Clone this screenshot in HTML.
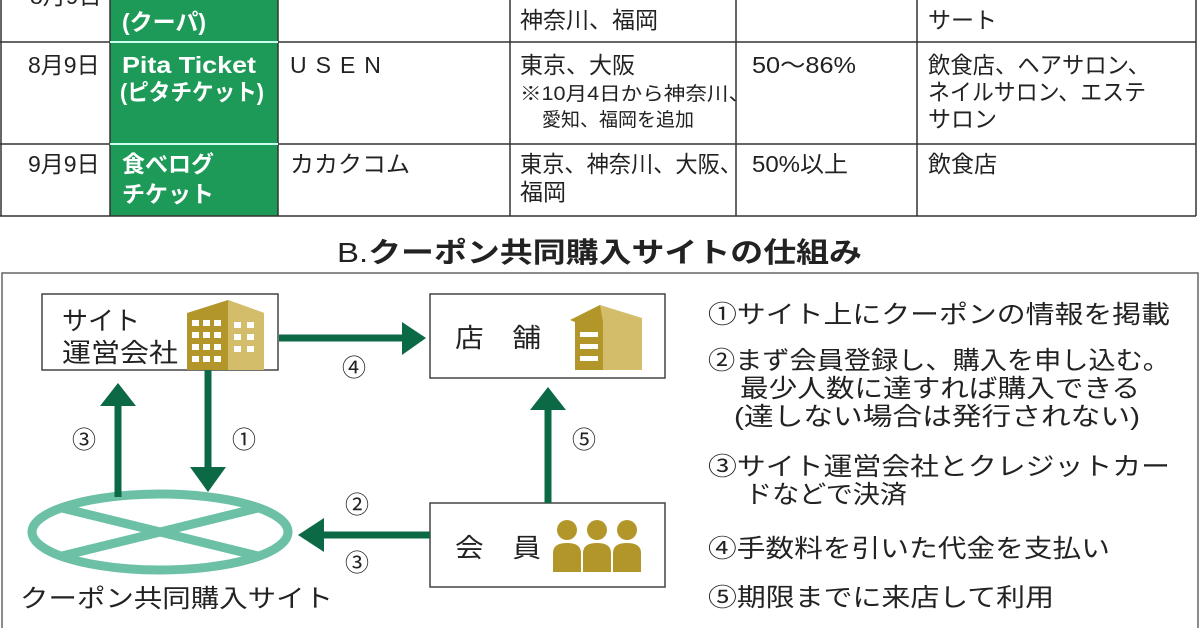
<!DOCTYPE html>
<html><head><meta charset="utf-8"><style>
body{margin:0;background:#fff}
svg text{font-family:"Liberation Sans","Noto Sans CJK JP",sans-serif;fill:#222}
</style></head><body>
<svg width="1200" height="628" viewBox="0 0 1200 628" xmlns="http://www.w3.org/2000/svg">
<rect width="1200" height="628" fill="#fff"/>
<rect x="110" y="0" width="168" height="216" fill="#1e9a58"/>
<g stroke="#333" stroke-width="1.5" fill="none">
<line x1="0" y1="42" x2="1196" y2="42"/>
<line x1="0" y1="144" x2="1196" y2="144"/>
<line x1="0" y1="216" x2="1196" y2="216"/>
<line x1="1" y1="0" x2="1" y2="216"/>
<line x1="110" y1="0" x2="110" y2="216"/>
<line x1="278" y1="0" x2="278" y2="216"/>
<line x1="510" y1="0" x2="510" y2="216"/>
<line x1="736" y1="0" x2="736" y2="216"/>
<line x1="917" y1="0" x2="917" y2="216"/>
<line x1="1196" y1="0" x2="1196" y2="216"/>
</g>
<line x1="110" y1="42" x2="278" y2="42" stroke="#cfe" stroke-width="2"/>
<line x1="110" y1="144" x2="278" y2="144" stroke="#cfe" stroke-width="2"/>
<g font-size="23">
<text x="30" y="4">8月9日</text>
<text x="122" y="30" style="fill:#fff;font-weight:bold">(クーパ)</text>
<text x="520" y="28">神奈川、福岡</text>
<text x="928" y="28">サート</text>
<text x="28" y="73">8月9日</text>
<text x="122" y="73" style="fill:#fff;font-weight:bold" textLength="134" lengthAdjust="spacingAndGlyphs">Pita Ticket</text>
<text x="120" y="100" style="fill:#fff;font-weight:bold" textLength="144" lengthAdjust="spacingAndGlyphs">(ピタチケット)</text>
<text x="290" y="73" letter-spacing="9">USEN</text>
<text x="520" y="73">東京、大阪</text>
<text x="520" y="100" font-size="19" textLength="230" lengthAdjust="spacingAndGlyphs">※10月4日から神奈川、</text>
<text x="542" y="126" font-size="19">愛知、福岡を追加</text>
<text x="752" y="73" textLength="104" lengthAdjust="spacingAndGlyphs">50～86%</text>
<text x="928" y="73" textLength="222" lengthAdjust="spacingAndGlyphs">飲食店、ヘアサロン、</text>
<text x="928" y="100" textLength="218" lengthAdjust="spacingAndGlyphs">ネイルサロン、エステ</text>
<text x="928" y="127">サロン</text>
<text x="28" y="172">9月9日</text>
<text x="122" y="172" style="fill:#fff;font-weight:bold">食べログ</text>
<text x="122" y="202" style="fill:#fff;font-weight:bold">チケット</text>
<text x="290" y="172" textLength="120" lengthAdjust="spacingAndGlyphs">カカクコム</text>
<text x="520" y="172" textLength="222" lengthAdjust="spacingAndGlyphs">東京、神奈川、大阪、</text>
<text x="520" y="200">福岡</text>
<text x="752" y="172" textLength="96" lengthAdjust="spacingAndGlyphs">50%以上</text>
<text x="928" y="172">飲食店</text>
</g>
<text x="337" y="262" font-size="28" textLength="525" lengthAdjust="spacingAndGlyphs"><tspan>B.</tspan><tspan font-weight="bold">クーポン共同購入サイトの仕組み</tspan></text>
<rect x="2" y="273" width="1196" height="360" fill="none" stroke="#666" stroke-width="1.5"/>
<g fill="#fff" stroke="#444" stroke-width="1.5">
<rect x="42" y="294" width="236" height="76"/>
<rect x="430" y="294" width="235" height="84"/>
<rect x="430" y="503" width="235" height="84"/>
</g>
<g font-size="26">
<text x="62" y="330">サイト</text>
<text x="62" y="362" textLength="116" lengthAdjust="spacingAndGlyphs">運営会社</text>
<text x="455" y="347" textLength="86" lengthAdjust="spacingAndGlyphs">店　舗</text>
<text x="455" y="557" textLength="86" lengthAdjust="spacingAndGlyphs">会　員</text>
</g>
<polygon points="187,313 228,300 264,313 264,370 187,370" fill="#b3962a"/>
<polygon points="228,300 264,313 264,370 228,370" fill="#d3bd6a"/>
<g fill="#fff">
<rect x="192" y="320" width="7" height="6"/><rect x="203" y="320" width="7" height="6"/><rect x="214" y="320" width="7" height="6"/>
<rect x="192" y="332" width="7" height="6"/><rect x="203" y="332" width="7" height="6"/><rect x="214" y="332" width="7" height="6"/>
<rect x="192" y="344" width="7" height="6"/><rect x="203" y="344" width="7" height="6"/><rect x="214" y="344" width="7" height="6"/>
<rect x="192" y="356" width="7" height="6"/><rect x="203" y="356" width="7" height="6"/><rect x="214" y="356" width="7" height="6"/>
<rect x="234" y="322" width="7" height="6"/><rect x="247" y="322" width="7" height="6"/>
<rect x="234" y="334" width="7" height="6"/><rect x="247" y="334" width="7" height="6"/>
<rect x="234" y="346" width="7" height="6"/><rect x="247" y="346" width="7" height="6"/>
</g>
<polygon points="571,320 600,305 642,318 642,370 575,370 575,322" fill="#d3bd6a"/>
<polygon points="570,320 600,305 603,322 603,370 575,370 575,322" fill="#b3962a"/>
<g fill="#fff"><rect x="580" y="332" width="18" height="5"/><rect x="580" y="344" width="18" height="5"/><rect x="580" y="356" width="18" height="5"/></g>
<g fill="#b3962a">
<circle cx="567" cy="530" r="10"/><path d="M553,572 V553 Q553,543 567,543 Q581,543 581,553 V572Z"/>
<circle cx="597" cy="530" r="10"/><path d="M583,572 V553 Q583,543 597,543 Q611,543 611,553 V572Z"/>
<circle cx="627" cy="530" r="10"/><path d="M613,572 V553 Q613,543 627,543 Q641,543 641,553 V572Z"/>
</g>
<ellipse cx="160" cy="532" rx="128" ry="38" fill="none" stroke="#6cc0a6" stroke-width="9"/>
<line x1="62" y1="508" x2="258" y2="556" stroke="#6cc0a6" stroke-width="9"/>
<line x1="62" y1="556" x2="258" y2="508" stroke="#6cc0a6" stroke-width="9"/>
<text x="20" y="607" font-size="25" textLength="313" lengthAdjust="spacingAndGlyphs">クーポン共同購入サイト</text>
<g stroke="#0b6a45" stroke-width="7" fill="#0b6a45">
<line x1="279" y1="338" x2="405" y2="338"/>
<line x1="208" y1="370" x2="208" y2="470"/>
<line x1="118" y1="497" x2="118" y2="405"/>
<line x1="430" y1="535" x2="320" y2="535"/>
<line x1="548" y1="503" x2="548" y2="408"/>
</g>
<g fill="#0b6a45">
<polygon points="402,322 426,338 402,355"/>
<polygon points="190,467 208,492 226,467"/>
<polygon points="100,406 118,383 136,406"/>
<polygon points="324,518 298,535 324,552"/>
<polygon points="530,410 548,387 566,410"/>
</g>
<g font-size="24">
<text x="342" y="376">④</text>
<text x="232" y="448">①</text>
<text x="72" y="448">③</text>
<text x="345" y="513">②</text>
<text x="345" y="571">③</text>
<text x="572" y="448">⑤</text>
</g>
<g font-size="25">
<text x="708" y="323" textLength="462" lengthAdjust="spacingAndGlyphs">①サイト上にクーポンの情報を掲載</text>
<text x="708" y="369" textLength="462" lengthAdjust="spacingAndGlyphs">②まず会員登録し、購入を申し込む。</text>
<text x="740" y="397" textLength="400" lengthAdjust="spacingAndGlyphs">最少人数に達すれば購入できる</text>
<text x="734" y="425" textLength="406" lengthAdjust="spacingAndGlyphs">(達しない場合は発行されない)</text>
<text x="708" y="475" textLength="462" lengthAdjust="spacingAndGlyphs">③サイト運営会社とクレジットカー</text>
<text x="745" y="503" textLength="162" lengthAdjust="spacingAndGlyphs">ドなどで決済</text>
<text x="708" y="557" textLength="402" lengthAdjust="spacingAndGlyphs">④手数料を引いた代金を支払い</text>
<text x="708" y="606" textLength="346" lengthAdjust="spacingAndGlyphs">⑤期限までに来店して利用</text>
</g>
</svg>
</body></html>
